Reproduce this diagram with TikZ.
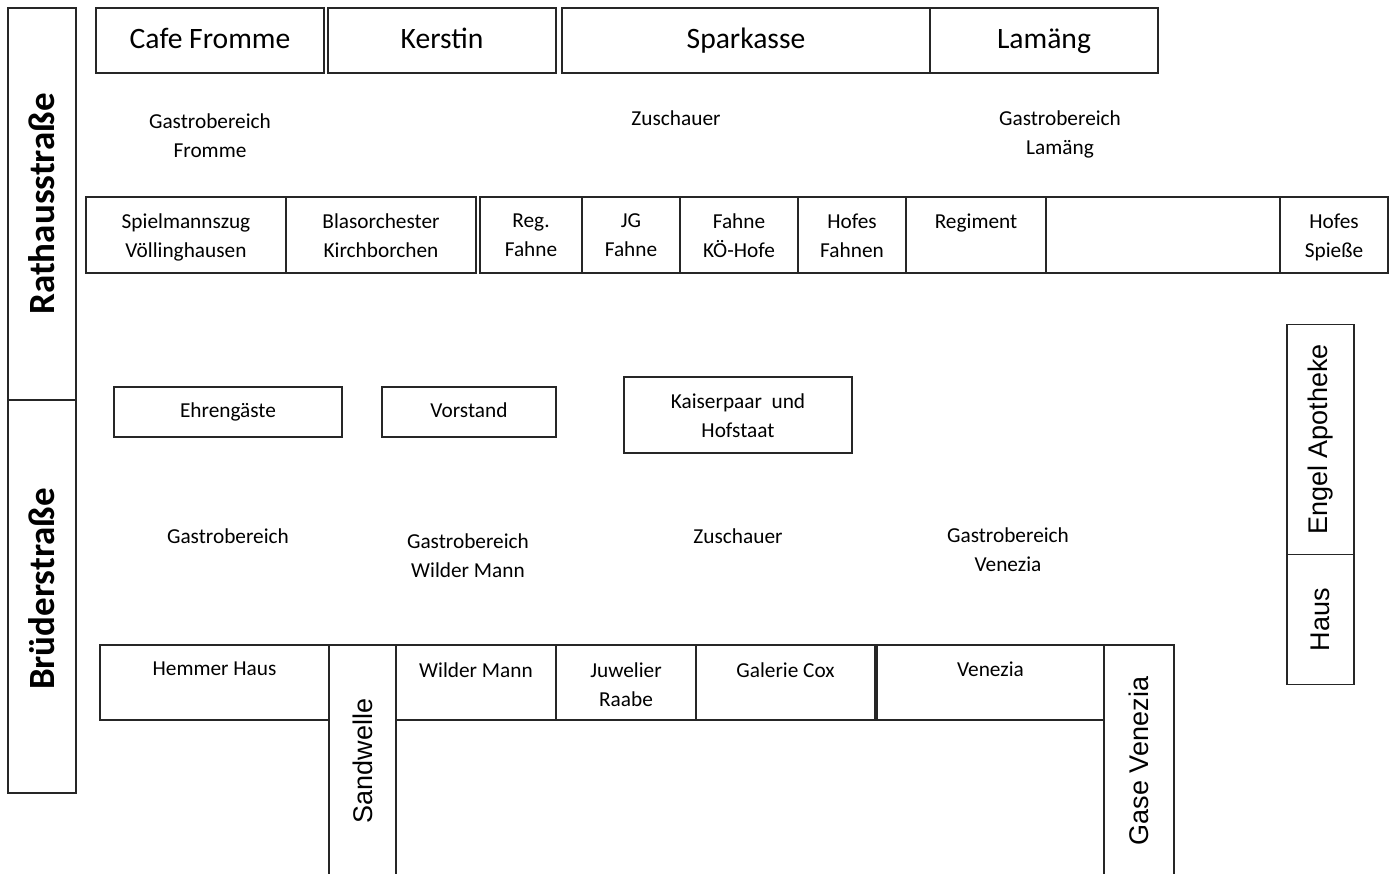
\documentclass[tikz,border=0pt]{standalone}
\usepackage{fontspec}
\setmainfont{Carlito}
\newfontfamily\arialfont{Liberation Sans}
\usepackage{tikz}
\usetikzlibrary{positioning}
\tikzstyle{box} = [rectangle, draw=black!85, line width=1.1pt, inner sep=0pt, outer sep=0pt, align=center, font=\fontsize{21.3}{29}\selectfont]
\tikzstyle{shop} = [box, anchor=north west]
\tikzstyle{single} = [text height=15pt, text depth=3.5pt]
\tikzstyle{sign} = [shop, text height=20.5pt, text depth=5.5pt, font=\fontsize{29.6}{34}\selectfont]
\tikzstyle{street} = [box, rotate=90, font=\bfseries\fontsize{37}{40}\selectfont]
\tikzstyle{lane} = [box, rotate=90, font=\arialfont\fontsize{27}{30}\selectfont]
\tikzstyle{toplabel} = [anchor=north, yshift=-16.5pt, inner sep=0pt, align=center, font=\fontsize{21.3}{29}\selectfont]
\tikzstyle{area} = [anchor=north, inner sep=0pt, align=center, font=\fontsize{21.3}{29.5}\selectfont]

\begin{document}
\begin{tikzpicture}[x=1pt, y=-1pt]
    \useasboundingbox (0,0) rectangle (1394,873);
    \clip (0,0) rectangle (1394,873);
    % Streets ----------------------------------------------------------------------------------
    \node[street, minimum width=392pt, minimum height=68pt](rathausstrasse) at (42,204){Rathausstraße};
    \node[street, minimum width=393pt, minimum height=68pt](bruederstrasse) at (42,596.5){\hspace*{15pt}Brüderstraße};
    % Top row ----------------------------------------------------------------------------------
    \node[sign, minimum width=228pt, minimum height=65pt](cafe_fromme) at (96,8){Cafe Fromme};
    \node[sign, minimum width=228pt, minimum height=65pt, right=4pt of cafe_fromme](kerstin){Kerstin};
    \node[sign, minimum width=368pt, minimum height=65pt, right=6pt of kerstin](sparkasse){Sparkasse};
    \node[sign, minimum width=228pt, minimum height=65pt, right=0pt of sparkasse](lamaeng){Lamäng};
    % Areas top
    \node[area](gastro_fromme) at (210,113.5){Gastrobereich\\Fromme};
    \node[area](zuschauer_oben) at (676,110.5){Zuschauer};
    \node[area](gastro_lamaeng) at (1060,110.5){Gastrobereich\\Lamäng};
    % Parade row -------------------------------------------------------------------------------
    \node[shop, minimum width=200pt, minimum height=76pt, label={[toplabel]north:{Spielmannszug\\Völlinghausen}}](spielmannszug) at (86,197){};
    \node[shop, minimum width=190pt, minimum height=76pt, right=0pt of spielmannszug, label={[toplabel]north:{Blasorchester\\Kirchborchen}}](blasorchester){};
    \node[shop, minimum width=102pt, minimum height=76pt, right=4pt of blasorchester, label={[toplabel]north:{Reg.\\Fahne}}](reg_fahne){};
    \node[shop, minimum width=98pt, minimum height=76pt, right=0pt of reg_fahne, label={[toplabel]north:{JG\\Fahne}}](jg_fahne){};
    \node[shop, minimum width=118pt, minimum height=76pt, right=0pt of jg_fahne, label={[toplabel]north:{Fahne\\KÖ-Hofe}}](fahne_koe){};
    \node[shop, minimum width=108pt, minimum height=76pt, right=0pt of fahne_koe, label={[toplabel]north:{Hofes\\Fahnen}}](hofes_fahnen){};
    \node[shop, minimum width=140pt, minimum height=76pt, right=0pt of hofes_fahnen, label={[toplabel]north:Regiment}](regiment){};
    \node[shop, minimum width=234pt, minimum height=76pt, right=0pt of regiment](leer){};
    \node[shop, minimum width=108pt, minimum height=76pt, right=0pt of leer, label={[toplabel]north:{Hofes\\Spieße}}](hofes_spiesse){};
    % Guests -----------------------------------------------------------------------------------
    \node[shop, single, minimum width=228pt, minimum height=50pt](ehrengaeste) at (114,387){Ehrengäste};
    \node[shop, single, minimum width=174pt, minimum height=50pt, right=40pt of ehrengaeste](vorstand){Vorstand};
    \node[shop, minimum width=228pt, minimum height=76pt](kaiserpaar) at (624,377){\rule{0pt}{15.5pt}Kaiserpaar\ \ und\\Hofstaat};
    % Areas bottom
    \node[area](gastro_links) at (228,528.5){Gastrobereich};
    \node[area](gastro_wilder_mann) at (468,533.5){Gastrobereich\\Wilder Mann};
    \node[area](zuschauer_unten) at (738,528.5){Zuschauer};
    \node[area](gastro_venezia) at (1008,527.5){Gastrobereich\\Venezia};
    % Bottom row -------------------------------------------------------------------------------
    \node[shop, minimum width=229pt, minimum height=75pt, label={[toplabel, yshift=-0.5pt]north:Hemmer Haus}](hemmer_haus) at (100,645){};
    \node[lane, minimum width=232pt, minimum height=67pt](sandwelle) at (362.5,761){Sandwelle};
    \node[shop, minimum width=160pt, minimum height=75pt, label={[toplabel, yshift=-0.5pt]north:Wilder Mann}](wilder_mann) at (396,645){};
    \node[shop, minimum width=140pt, minimum height=75pt, right=0pt of wilder_mann, label={[toplabel, yshift=-0.5pt]north:{Juwelier\\Raabe}}](juwelier_raabe){};
    \node[shop, minimum width=179pt, minimum height=75pt, right=0pt of juwelier_raabe, label={[toplabel, yshift=-0.5pt]north:Galerie Cox}](galerie_cox){};
    \node[shop, minimum width=227pt, minimum height=75pt, right=2pt of galerie_cox, label={[toplabel, yshift=-0.5pt]north:Venezia}](venezia){};
    \node[lane, minimum width=232pt, minimum height=70pt](gase_venezia) at (1139,761){Gase Venezia};
    % Right side -------------------------------------------------------------------------------
    \node[lane, minimum width=230pt, minimum height=67pt](engel_apotheke) at (1320.5,439.5){Engel Apotheke};
    \node[lane, minimum width=130pt, minimum height=67pt](haus) at (1320.5,619.5){Haus};
\end{tikzpicture}
\end{document}
